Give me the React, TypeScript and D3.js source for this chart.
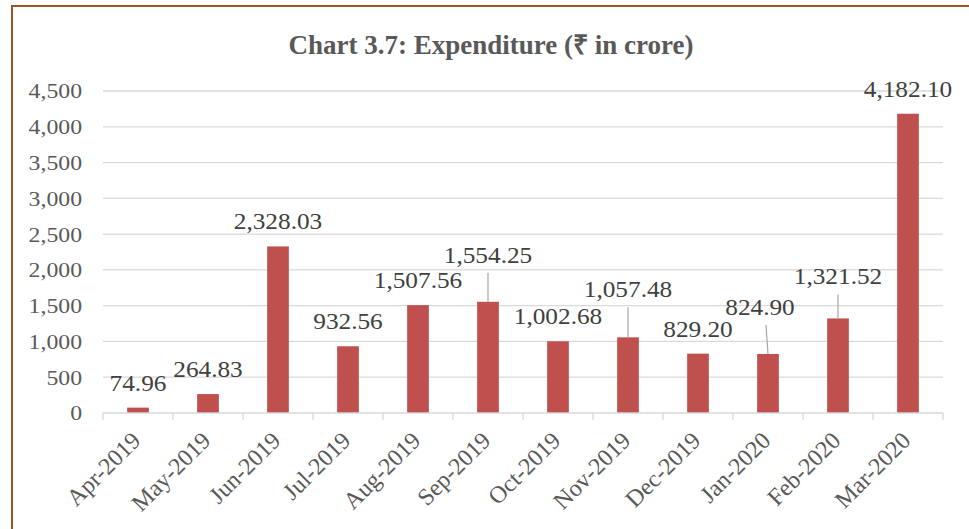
import React from 'react';
import * as d3 from 'd3';

// Expenditure by month, ₹ in crore
const months = [
  'Apr-2019', 'May-2019', 'Jun-2019', 'Jul-2019', 'Aug-2019', 'Sep-2019',
  'Oct-2019', 'Nov-2019', 'Dec-2019', 'Jan-2020', 'Feb-2020', 'Mar-2020',
];
const expenditure = [
  74.96, 264.83, 2328.03, 932.56, 1507.56, 1554.25,
  1002.68, 1057.48, 829.2, 824.9, 1321.52, 4182.1,
];
const yTicks = [0, 500, 1000, 1500, 2000, 2500, 3000, 3500, 4000, 4500];

// labels pushed up with a leader line (Excel style), px lift and x shift
const leaderLift = [0, 0, 0, 0, 0, 39, 0, 40, 0, 39, 34, 0];
const leaderShift = [0, 0, 0, 0, 0, 0, 0, 0, 0, -8, 0, 0];

const W = 969;
const H = 529;
const left = 103;
const right = 943;
const top = 91;
const bottom = 413;

const fmt = d3.format(',.2f');
const fmtTick = d3.format(',');
const serif = '"Liberation Serif", "Times New Roman", serif';

// the original export is a bit wider than tall, so stretch the text horizontally
function Wide({ x, y, sx = 1.1, children, ...rest }: any) {
  return (
    <g transform={`translate(${x},${y}) scale(${sx},1)`}>
      <text x={0} y={0} fontFamily={serif} {...rest}>
        {children}
      </text>
    </g>
  );
}

export default function App() {
  const x = d3.scaleBand().domain(months).range([left, right]).paddingInner(0.69).paddingOuter(0.345);
  const band = d3.scaleBand().domain(months).range([left, right]);
  const y = d3.scaleLinear().domain([0, 4500]).range([bottom, top]);

  return (
    <svg width={W} height={H} style={{ position: 'absolute', left: 0, top: 0, background: '#fff' }} fontFamily={serif}>
      {/* outer frame */}
      <rect x={12} y={6} width={W + 20} height={H + 20} fill="none" stroke="#9b5528" strokeWidth={2} />

      <text x={491} y={54} textAnchor="middle" fontWeight="bold" fontSize={27} fill="#595959" fontFamily={serif}>
        Chart 3.7: Expenditure (₹ in crore)
      </text>

      {/* grid + y axis labels */}
      {yTicks.map((t) => (
        <g key={t}>
          {t > 0 && <line x1={left} x2={right} y1={y(t)} y2={y(t)} stroke="#d9d9d9" strokeWidth={1.3} />}
          <Wide x={82} y={y(t)} sx={1.08} dy="0.34em" textAnchor="end" fontSize={22} fill="#595959">
            {fmtTick(t)}
          </Wide>
        </g>
      ))}

      {/* bars */}
      {expenditure.map((v, i) => (
        <rect key={months[i]} x={x(months[i])} y={y(v)} width={x.bandwidth()} height={bottom - y(v)} fill="#c0504d" />
      ))}

      {/* category axis */}
      <line x1={left} x2={right} y1={bottom} y2={bottom} stroke="#d9d9d9" strokeWidth={1.3} />
      {d3.range(months.length + 1).map((i) => {
        const tx = i < months.length ? band(months[i]) : right;
        return <line key={i} x1={tx} x2={tx} y1={bottom} y2={bottom + 7} stroke="#d9d9d9" strokeWidth={1.3} />;
      })}
      {months.map((m) => {
        const cx = band(m) + band.bandwidth() / 2;
        return (
          <text key={m} transform={`translate(${cx - 2},${bottom + 23}) rotate(-45)`} dy="0.35em" textAnchor="end" fontSize={24} fill="#595959" fontFamily={serif}>
            {m}
          </text>
        );
      })}

      {/* data labels */}
      {expenditure.map((v, i) => {
        const cx = band(months[i]) + band.bandwidth() / 2;
        const topY = y(v);
        const lift = leaderLift[i] || 17;
        const lx = cx + leaderShift[i];
        return (
          <g key={'l' + i}>
            {leaderLift[i] > 0 && (
              <line x1={lx + (leaderShift[i] ? 6 : 0)} x2={cx} y1={topY - lift + 10} y2={topY} stroke="#a6a6a6" strokeWidth={1.2} />
            )}
            <Wide x={lx} y={topY - lift} textAnchor="middle" fontSize={23} fill="#404040">
              {fmt(v)}
            </Wide>
          </g>
        );
      })}
    </svg>
  );
}
